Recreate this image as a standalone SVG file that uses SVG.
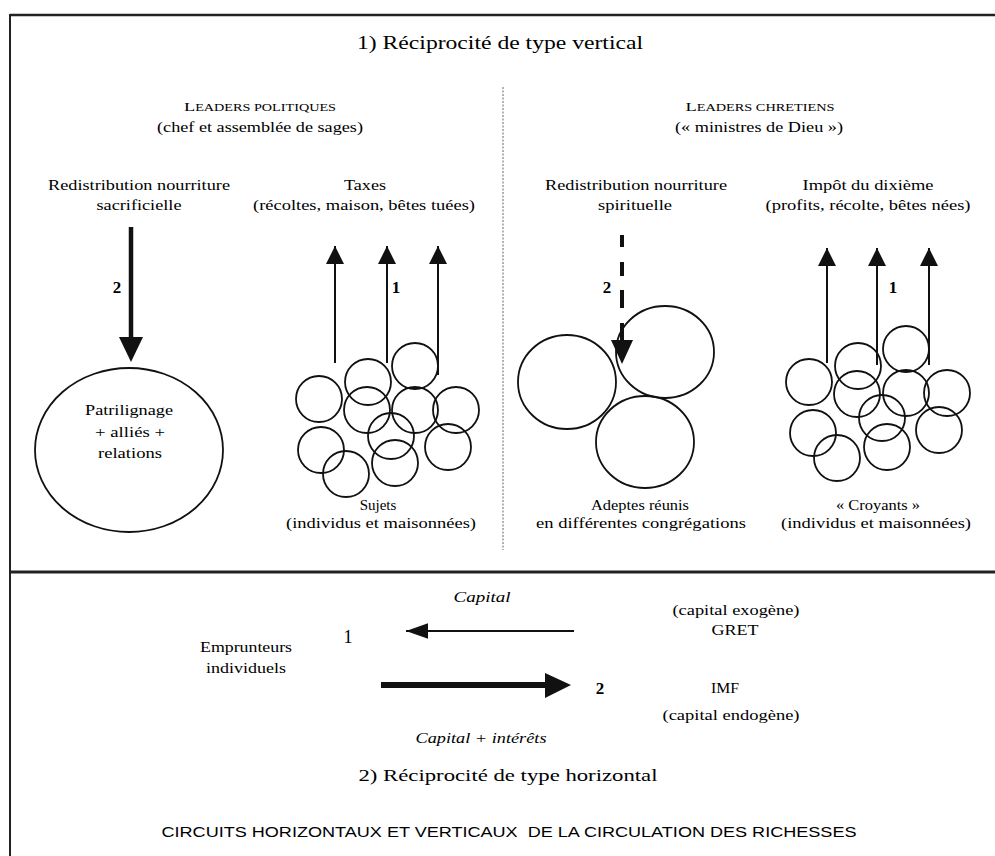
<svg xmlns="http://www.w3.org/2000/svg" width="995" height="856" viewBox="0 0 995 856">
<style>
text{font-family:"Liberation Serif","Times New Roman",serif;fill:#000;text-anchor:middle;font-size:15px}
.t{font-size:18px}
.b{font-weight:bold;font-size:17px}
.i{font-style:italic}
.sc{font-size:10.5px}
.cap{font-size:13.5px}
.sans{font-family:"Liberation Sans",Arial,sans-serif;font-size:14px;white-space:pre}
.c{fill:none;stroke:#111;stroke-width:1.8}
.frame{stroke:#222;fill:none}
</style>
<defs>
<marker id="hUp" markerUnits="userSpaceOnUse" markerWidth="18" markerHeight="18" refX="16" refY="8" orient="auto" viewBox="0 0 16 16"><path d="M0,0 L16,8 L0,16 Z" fill="#111"/></marker>
<marker id="hThinH" markerUnits="userSpaceOnUse" markerWidth="22" markerHeight="16" refX="21" refY="7.5" orient="auto" viewBox="0 0 21 15"><path d="M0,0 L21,7.5 L0,15 Z" fill="#111"/></marker>
</defs>

<g id="frame">
<line class="frame" x1="10" y1="15" x2="995" y2="15" stroke-width="2.5"/>
<line class="frame" x1="10" y1="14" x2="10" y2="856" stroke-width="2"/>
<line class="frame" x1="10" y1="572" x2="995" y2="572" stroke-width="3"/>
<line x1="503" y1="87" x2="503" y2="550" stroke="#666" stroke-width="1" stroke-dasharray="2 1.5"/>
</g>

<g id="title-vertical"><text class="t" x="500" y="49" textLength="286" lengthAdjust="spacingAndGlyphs">1) Réciprocité de type vertical</text></g>

<g id="leaders-politiques">
<text x="260" y="111" textLength="152" lengthAdjust="spacingAndGlyphs"><tspan class="cap">L</tspan><tspan class="sc">EADERS POLITIQUES</tspan></text>
<text x="260" y="132" textLength="206" lengthAdjust="spacingAndGlyphs">(chef et assemblée de sages)</text>
</g>
<g id="leaders-chretiens">
<text x="760" y="111" textLength="149" lengthAdjust="spacingAndGlyphs"><tspan class="cap">L</tspan><tspan class="sc">EADERS CHRETIENS</tspan></text>
<text x="759" y="132" textLength="168" lengthAdjust="spacingAndGlyphs">(« ministres de Dieu »)</text>
</g>

<g id="label-redistribution-sacrificielle">
<text x="139" y="190" textLength="182" lengthAdjust="spacingAndGlyphs">Redistribution nourriture</text>
<text x="139" y="210" textLength="85" lengthAdjust="spacingAndGlyphs">sacrificielle</text>
</g>
<g id="label-taxes">
<text x="365" y="190" textLength="42" lengthAdjust="spacingAndGlyphs">Taxes</text>
<text x="364" y="210" textLength="222" lengthAdjust="spacingAndGlyphs">(récoltes, maison, bêtes tuées)</text>
</g>
<g id="label-redistribution-spirituelle">
<text x="636" y="190" textLength="182" lengthAdjust="spacingAndGlyphs">Redistribution nourriture</text>
<text x="635" y="210" textLength="74" lengthAdjust="spacingAndGlyphs">spirituelle</text>
</g>
<g id="label-dixieme">
<text x="868" y="190" textLength="131" lengthAdjust="spacingAndGlyphs">Impôt du dixième</text>
<text x="868" y="210" textLength="205" lengthAdjust="spacingAndGlyphs">(profits, récolte, bêtes nées)</text>
</g>

<g id="patrilignage">
<ellipse class="c" cx="129" cy="450" rx="94" ry="82"/>
<text x="129" y="415" textLength="88" lengthAdjust="spacingAndGlyphs">Patrilignage</text>
<text x="130" y="437" textLength="70" lengthAdjust="spacingAndGlyphs">+ alliés +</text>
<text x="130" y="458" textLength="64" lengthAdjust="spacingAndGlyphs">relations</text>
</g>

<g id="sujets">
<circle class="c" cx="319" cy="399" r="23"/>
<circle class="c" cx="368" cy="382" r="23"/>
<circle class="c" cx="415" cy="366" r="23"/>
<circle class="c" cx="367" cy="410" r="23"/>
<circle class="c" cx="415" cy="410" r="23"/>
<circle class="c" cx="456" cy="410" r="23"/>
<circle class="c" cx="321" cy="450" r="23"/>
<circle class="c" cx="391" cy="436" r="23"/>
<circle class="c" cx="448" cy="447" r="23"/>
<circle class="c" cx="346" cy="474" r="23"/>
<circle class="c" cx="395" cy="463" r="23"/>
<text x="378" y="510">Sujets</text>
<text x="381" y="528" textLength="190" lengthAdjust="spacingAndGlyphs">(individus et maisonnées)</text>
</g>

<g id="adeptes">
<ellipse class="c" cx="567" cy="382" rx="49" ry="47"/>
<ellipse class="c" cx="665" cy="352" rx="49" ry="46"/>
<ellipse class="c" cx="645" cy="442" rx="49" ry="46"/>
<text x="640" y="510" textLength="98" lengthAdjust="spacingAndGlyphs">Adeptes réunis</text>
<text x="641" y="528" textLength="210" lengthAdjust="spacingAndGlyphs">en différentes congrégations</text>
</g>

<g id="croyants">
<circle class="c" cx="809" cy="382" r="23"/>
<circle class="c" cx="858" cy="366" r="23"/>
<circle class="c" cx="906" cy="349" r="23"/>
<circle class="c" cx="857" cy="394" r="23"/>
<circle class="c" cx="906" cy="393" r="23"/>
<circle class="c" cx="947" cy="393" r="23"/>
<circle class="c" cx="813" cy="433" r="23"/>
<circle class="c" cx="882" cy="418" r="23"/>
<circle class="c" cx="939" cy="430" r="23"/>
<circle class="c" cx="837" cy="458" r="23"/>
<circle class="c" cx="887" cy="447" r="23"/>
<text x="878" y="510" textLength="84" lengthAdjust="spacingAndGlyphs">« Croyants »</text>
<text x="876" y="528" textLength="190" lengthAdjust="spacingAndGlyphs">(individus et maisonnées)</text>
</g>

<g id="emprunteurs">
<text x="246" y="652" textLength="92" lengthAdjust="spacingAndGlyphs">Emprunteurs</text>
<text x="246" y="673" textLength="80" lengthAdjust="spacingAndGlyphs">individuels</text>
</g>
<g id="gret">
<text x="736" y="615" textLength="127" lengthAdjust="spacingAndGlyphs">(capital exogène)</text>
<text x="735" y="635" textLength="47" lengthAdjust="spacingAndGlyphs">GRET</text>
</g>
<g id="imf">
<text x="725" y="693" textLength="28" lengthAdjust="spacingAndGlyphs">IMF</text>
<text x="731" y="720" textLength="137" lengthAdjust="spacingAndGlyphs">(capital endogène)</text>
</g>

<g id="connectors">
<line x1="131" y1="227" x2="131" y2="340" stroke="#111" stroke-width="4.5"/>
<polygon points="119,337 143,337 131,362" fill="#111"/>
<line x1="335" y1="363" x2="335" y2="246" stroke="#111" stroke-width="2" marker-end="url(#hUp)"/>
<line x1="387" y1="363" x2="387" y2="246" stroke="#111" stroke-width="2" marker-end="url(#hUp)"/>
<line x1="438" y1="375" x2="438" y2="246" stroke="#111" stroke-width="2" marker-end="url(#hUp)"/>
<path d="M622,235 V247 M622,262 V276 M622,290 V308 M622,323 V342" stroke="#111" stroke-width="4" fill="none"/>
<polygon points="611,340 633,340 622,364" fill="#111"/>
<line x1="827" y1="363" x2="827" y2="248" stroke="#111" stroke-width="2" marker-end="url(#hUp)"/>
<line x1="877" y1="365" x2="877" y2="248" stroke="#111" stroke-width="2" marker-end="url(#hUp)"/>
<line x1="929" y1="365" x2="929" y2="248" stroke="#111" stroke-width="2" marker-end="url(#hUp)"/>
<line x1="574" y1="631" x2="406" y2="631" stroke="#111" stroke-width="2.2" marker-end="url(#hThinH)"/>
<line x1="381" y1="685" x2="548" y2="685" stroke="#111" stroke-width="6"/>
<polygon points="545,673 571,685 545,698" fill="#111"/>
</g>

<g id="labels">
<text class="b" x="117" y="293">2</text>
<text class="b" x="396" y="293">1</text>
<text class="b" x="607" y="293">2</text>
<text class="b" x="893" y="293">1</text>
<text class="i" x="482" y="602" textLength="57" lengthAdjust="spacingAndGlyphs">Capital</text>
<text x="348" y="643" style="font-size:18px">1</text>
<text class="b" x="600" y="694">2</text>
<text class="i" x="481" y="743" textLength="131" lengthAdjust="spacingAndGlyphs">Capital + intérêts</text>
</g>

<g id="title-horizontal"><text class="t" x="508" y="781" style="font-size:17px" textLength="299" lengthAdjust="spacingAndGlyphs">2) Réciprocité de type horizontal</text></g>
<g id="caption"><text class="sans" x="509" y="837" textLength="695" lengthAdjust="spacingAndGlyphs">CIRCUITS HORIZONTAUX ET VERTICAUX  DE LA CIRCULATION DES RICHESSES</text></g>
</svg>
